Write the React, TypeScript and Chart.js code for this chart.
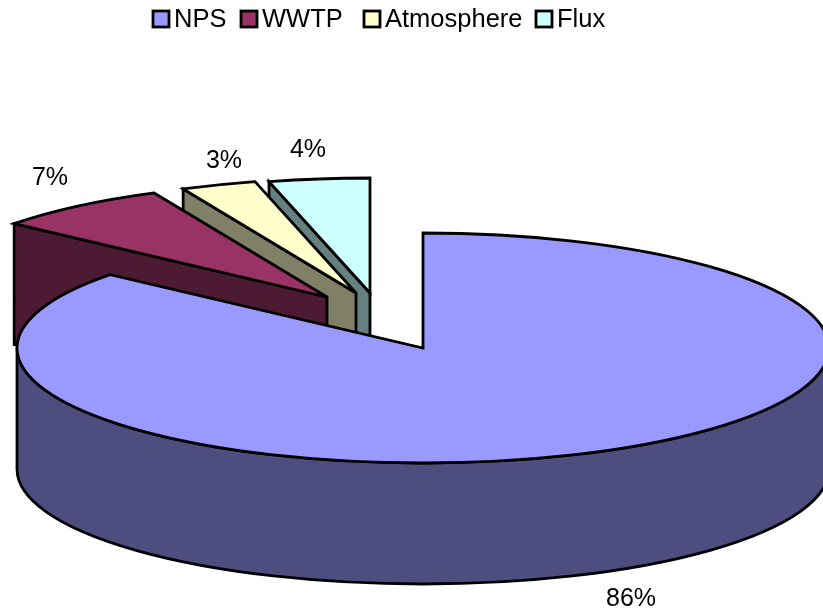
import React, { useEffect, useRef } from "react";
import { Chart, registerables } from "chart.js";

Chart.register(...registerables);

// Nutrient source shares, in percent
const sources = ["NPS", "WWTP", "Atmosphere", "Flux"];
const shares = [86, 7, 3, 4];

const topColors = ["#9999FF", "#993366", "#FFFFCC", "#CCFFFF"];
const wallColors = ["#4D4D80", "#4D1A33", "#808066", "#668080"];

// Pulled-out distance of each wedge from the pie centre, in px
const explodeX = [0, -96, -67, -53];
const explodeY = [0, -51, -55, -55];

// Share label anchors relative to the pie centre, in px
const labelDx = [208, -373, -199, -115];
const labelDy = [251, -170, -187, -198];

// Left edge of each legend swatch, in px
const legendBoxX = [153, 241, 364, 536];

const ELLIPSE_STRETCH = 406 / 115;
const PIE_DEPTH = 121;
const LINE = 2.8;
const FONT = "'Liberation Sans', Arial, sans-serif";

// Paints the pie as a tilted, extruded disc using the angles the arc elements got from the controller
const tiltedPie = {
  id: "tiltedPie",
  beforeDatasetsDraw(chart: any) {
    const { ctx } = chart;
    const arcs = chart.getDatasetMeta(0).data;
    ctx.save();
    ctx.lineWidth = LINE;
    ctx.strokeStyle = "#000";
    ctx.lineJoin = "miter";
    ctx.miterLimit = 6;

    // The wedges overlap back to front: last source first, main slice on top
    [3, 2, 1, 0].forEach((i) => {
      const arc = arcs[i];
      const ry = arc.outerRadius;
      const rx = ry * ELLIPSE_STRETCH;
      const cx = arc.x + explodeX[i];
      const cy = arc.y + explodeY[i];
      const s = arc.startAngle;
      const e = arc.endAngle;

      const radialWall = (a: number) => {
        const px = cx + rx * Math.cos(a);
        const py = cy + ry * Math.sin(a);
        ctx.beginPath();
        ctx.moveTo(cx, cy);
        ctx.lineTo(px, py);
        ctx.lineTo(px, py + PIE_DEPTH);
        ctx.lineTo(cx, cy + PIE_DEPTH);
        ctx.closePath();
        ctx.fillStyle = wallColors[i];
        ctx.fill();
        ctx.stroke();
      };
      if (Math.cos(s) < -1e-6) radialWall(s);
      if (Math.cos(e) > 1e-6) radialWall(e);

      // Curved rim: only the part on the near half of the ellipse shows
      const from = Math.max(s, 0);
      const to = Math.min(e, Math.PI);
      if (to > from) {
        ctx.beginPath();
        ctx.ellipse(cx, cy, rx, ry, 0, from, to);
        ctx.ellipse(cx, cy + PIE_DEPTH, rx, ry, 0, to, from, true);
        ctx.closePath();
        ctx.fillStyle = wallColors[i];
        ctx.fill();
        ctx.stroke();
      }

      ctx.beginPath();
      ctx.moveTo(cx, cy);
      ctx.ellipse(cx, cy, rx, ry, 0, s, e);
      ctx.closePath();
      ctx.fillStyle = topColors[i];
      ctx.fill();
      ctx.stroke();
    });
    ctx.restore();
    return false;
  },
  afterDraw(chart: any) {
    const { ctx } = chart;
    const arc = chart.getDatasetMeta(0).data[0];
    const total = shares.reduce((a, b) => a + b, 0);
    ctx.save();
    ctx.fillStyle = "#000";
    ctx.textBaseline = "middle";

    ctx.font = `25px ${FONT}`;
    ctx.textAlign = "center";
    shares.forEach((v, i) => {
      ctx.fillText(`${Math.round((v / total) * 100)}%`, arc.x + labelDx[i], arc.y + labelDy[i]);
    });

    ctx.font = `25.5px ${FONT}`;
    ctx.textAlign = "left";
    sources.forEach((name, i) => {
      ctx.fillStyle = topColors[i];
      ctx.strokeStyle = "#000";
      ctx.lineWidth = 2.8;
      ctx.fillRect(legendBoxX[i], 11, 16, 16);
      ctx.strokeRect(legendBoxX[i], 11, 16, 16);
      ctx.fillStyle = "#000";
      ctx.fillText(name, legendBoxX[i] + 21, 20);
    });
    ctx.restore();
  },
};

export default function App() {
  const ref = useRef<HTMLCanvasElement>(null);
  useEffect(() => {
    const chart = new Chart(ref.current!, {
      type: "pie",
      data: {
        labels: sources,
        datasets: [{ data: shares, backgroundColor: topColors, borderWidth: 0 }],
      },
      options: {
        animation: false,
        responsive: false,
        events: [],
        layout: { padding: { left: 308, right: 285, top: 233, bottom: 152 } },
        plugins: { legend: { display: false }, tooltip: { enabled: false } },
      },
      plugins: [tiltedPie],
    });
    return () => chart.destroy();
  }, []);
  return (
    <div style={{ position: "absolute", left: 0, top: 0, width: 823, height: 615, overflow: "hidden", background: "#fff" }}>
      <canvas ref={ref} width={823} height={615} style={{ display: "block" }} />
    </div>
  );
}
